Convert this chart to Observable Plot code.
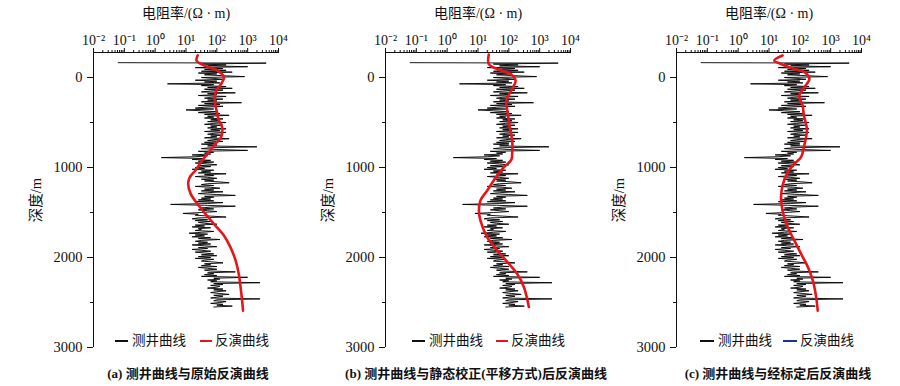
<!DOCTYPE html>
<html><head><meta charset="utf-8">
<script src="https://cdn.jsdelivr.net/npm/d3@7"></script>
<script src="https://cdn.jsdelivr.net/npm/@observablehq/plot@0.6"></script>
<style>
body{margin:0;background:#fff;}
#root{position:relative;width:900px;height:386px;overflow:hidden;font-family:"Liberation Serif","Noto Sans CJK SC",serif;color:#111;}
.panel{position:absolute;top:0;}
.leg{position:absolute;font-size:13.5px;line-height:14px;font-family:"Liberation Serif","Noto Sans CJK SC",serif;white-space:nowrap;}
.sw{position:absolute;height:0;}
.cap{position:absolute;font-size:13px;font-weight:bold;white-space:nowrap;transform:translate(-50%,-50%);}
</style></head><body><div id="root"></div><script>
// ---- well log (shared by all three panels): depth (m) and log10 resistivity (Ω·m)
const wellDepth = [-165,-160,
-150,-140,-130,-120,-110,-100,-90,-80,-70,-60,
-50,-40,-30,-20,-10,0,10,20,30,40,
50,60,70,80,90,100,110,120,130,140,
150,160,170,180,190,200,210,220,230,240,
250,260,270,280,290,300,310,320,330,340,
350,360,370,380,390,400,410,420,430,440,
450,460,470,480,490,500,510,520,530,540,
550,560,570,580,590,600,610,620,630,640,
650,660,670,680,690,700,710,720,730,740,
750,760,770,780,790,800,810,820,830,840,
850,860,870,880,890,900,910,920,930,940,
950,960,970,980,990,1000,1010,1020,1030,1040,
1050,1060,1070,1080,1090,1100,1110,1120,1130,1140,
1150,1160,1170,1180,1190,1200,1210,1220,1230,1240,
1250,1260,1270,1280,1290,1300,1310,1320,1330,1340,
1350,1360,1370,1380,1390,1400,1410,1420,1430,1440,
1450,1460,1470,1480,1490,1500,1510,1520,1530,1540,
1550,1560,1570,1580,1590,1600,1610,1620,1630,1640,
1650,1660,1670,1680,1690,1700,1710,1720,1730,1740,
1750,1760,1770,1780,1790,1800,1810,1820,1830,1840,
1850,1860,1870,1880,1890,1900,1910,1920,1930,1940,
1950,1960,1970,1980,1990,2000,2010,2020,2030,2040,
2050,2060,2070,2080,2090,2100,2110,2120,2130,2140,
2150,2160,2170,2180,2190,2200,2210,2220,2230,2240,
2250,2260,2270,2280,2290,2300,2310,2320,2330,2340,
2350,2360,2370,2380,2390,2400,2410,2420,2430,2440,
2450,2460,2470,2480,2490,2500,2510,2520,2530,2540,
2550];
const wellLog10 = [-1.2,3.6,
1.5,2.3,1.7,3.0,1.3,2.2,1.6,2.3,1.5,2.5,
1.4,2.0,1.6,2.2,2.9,1.5,1.9,2.2,1.3,2.0,
1.6,2.1,0.4,1.9,1.5,2.3,1.7,2.5,1.6,2.2,
1.8,1.5,2.6,1.7,2.0,1.4,2.3,1.8,1.6,2.2,
1.7,2.0,1.5,2.8,1.6,2.1,1.4,2.2,1.6,1.3,
1.9,1.0,1.5,2.0,1.4,2.1,1.6,2.4,1.7,1.9,
1.6,2.2,1.8,2.1,1.7,2.3,1.9,1.6,2.2,1.8,
2.0,1.7,2.3,1.8,2.1,1.6,2.3,1.9,1.7,2.2,
1.8,2.0,1.6,2.4,1.9,1.7,2.2,1.6,2.0,1.5,
2.0,1.7,3.3,1.8,1.5,2.0,3.0,1.4,1.9,1.6,
1.8,1.2,1.7,1.3,0.2,1.6,1.2,1.8,1.4,1.9,
1.3,1.7,2.0,1.4,1.8,1.3,1.6,1.2,1.9,1.5,
1.8,1.4,2.3,1.6,1.9,1.3,1.7,2.0,1.5,1.9,
1.6,2.1,2.4,1.7,1.5,1.9,1.3,1.8,2.1,1.6,
1.9,1.5,2.2,1.7,1.4,2.0,2.6,1.6,1.9,1.5,
1.8,1.4,1.9,1.3,2.2,1.7,0.5,1.6,2.6,1.8,
1.5,1.9,1.4,1.7,2.0,1.5,0.9,1.4,1.3,1.8,
2.3,1.4,1.2,1.7,1.3,1.8,1.4,1.6,2.0,1.3,
1.6,1.2,1.8,1.4,1.5,1.3,1.9,1.5,1.1,1.7,
1.3,1.6,1.2,1.8,1.4,2.1,1.5,1.3,1.7,1.4,
1.8,1.2,1.6,2.0,1.4,1.7,1.2,1.5,1.8,1.3,
1.6,1.9,1.5,2.0,1.4,1.8,1.3,1.9,1.6,1.5,
1.9,2.2,1.6,1.8,1.5,2.0,1.4,1.7,2.0,1.6,
1.8,2.6,1.7,1.9,1.6,2.0,1.5,3.0,1.9,2.1,
1.7,2.0,1.8,3.4,1.9,2.2,1.8,2.1,2.0,1.7,
2.2,1.9,2.3,2.0,1.8,2.1,2.4,1.9,2.2,2.0,
1.8,3.4,2.0,1.9,2.3,2.1,1.8,2.2,2.0,2.5,
1.9];

// ---- inversion curves: depth (m) and log10 resistivity (Ω·m)
const invADepth = [-245,-190,-135,-80,-5,70,165,255,365,480,550,660,735,830,920,1030,1110,1180,1290,1400,1515,1625,1755,1885,2035,2180,2330,2480,2590];
const invALog10 = [1.38,1.34,1.58,2.01,2.23,2.14,1.96,1.93,1.99,2.07,2.17,2.14,1.96,1.74,1.53,1.31,1.12,1.07,1.15,1.36,1.63,1.90,2.23,2.44,2.61,2.71,2.77,2.82,2.85];
const invBDepth = [-255,-150,-95,-40,35,125,255,365,480,590,700,830,915,995,1145,1255,1365,1480,1590,1775,1920,2050,2180,2330,2550];
const invBLog10 = [1.35,1.35,1.62,2.05,2.22,2.11,1.92,1.95,2.00,2.05,2.11,2.11,2.08,1.84,1.51,1.30,1.08,1.03,1.08,1.30,1.62,1.95,2.27,2.49,2.65];
const invCDepth = [-245,-190,-150,-95,-60,15,105,200,255,310,420,570,665,775,885,960,1050,1200,1330,1480,1665,1810,1960,2105,2255,2440,2590];
const invCLog10 = [1.44,1.17,1.39,1.82,2.15,2.31,2.15,1.98,2.02,2.09,2.13,2.23,2.20,2.13,2.04,1.82,1.61,1.44,1.39,1.44,1.61,1.82,2.04,2.26,2.42,2.53,2.58];

// ---- axes and texts
const xMajorTicks = [0.01,0.1,1,10,100,1000,10000];
const yMajorTicks = [0,1000,2000,3000];
const yMinorTicks = [500,1500,2500];
const yDomain = [-278,3000];
const xDomain = [0.01,10000];
const xTitle = "电阻率/(Ω · m)";
const yTitle = "深度/m";
const legendWell = "测井曲线";
const legendInv = "反演曲线";
const captions = ["(a) 测井曲线与原始反演曲线","(b) 测井曲线与静态校正(平移方式)后反演曲线","(c) 测井曲线与经标定后反演曲线"];

const xMinorTicks = [];
for (let e = -2; e < 4; e++) for (let m = 2; m <= 9; m++) xMinorTicks.push(m * Math.pow(10, e));
const supMap = {"-":"⁻","0":"⁰","1":"¹","2":"²","3":"³","4":"⁴"};
const sup = d => "10" + String(Math.round(Math.log10(d))).split("").map(c => supMap[c]).join("");

const mk = (D,L) => D.map((d,i) => ({depth:d, res:Math.pow(10, L[i])}));
const well = mk(wellDepth, wellLog10);
const invs = [mk(invADepth,invALog10), mk(invBDepth,invBLog10), mk(invCDepth,invCLog10)];

const root = document.getElementById("root");
const panelLeft = [0, 292, 583];
const legendSwatchColor = ["#e8141b","#e8141b","#1f2f9a"];
const legendX = [[115,132,200,215],[412,429,496,511],[700,718,783,800]];
const captionX = [188,476,778];
const FONT = '"Liberation Serif","Noto Sans CJK SC",serif';

invs.forEach((inv, k) => {
  const plot = Plot.plot({
    width: 300, height: 352,
    marginLeft: 93, marginRight: 22, marginTop: 52, marginBottom: 5,
    style: {background: "transparent", fontFamily: FONT, fontSize: "14px", overflow: "visible", color: "#111"},
    x: {type: "log", domain: xDomain},
    y: {domain: yDomain, reverse: true},
    marks: [
      Plot.axisX({anchor: "top", ticks: xMinorTicks, tickSize: 3, tickFormat: () => "", label: null}),
      Plot.axisX({anchor: "top", ticks: xMajorTicks, tickSize: 5, tickPadding: 3, tickFormat: sup, label: xTitle, labelAnchor: "center", labelOffset: 44, labelArrow: "none", fontSize: 14}),
      Plot.axisY({anchor: "left", ticks: yMinorTicks, tickSize: 3, tickFormat: () => "", label: null}),
      Plot.axisY({anchor: "left", ticks: yMajorTicks, tickSize: 6, tickPadding: 5, tickFormat: d => String(d), label: yTitle, labelAnchor: "center", labelOffset: 63, labelArrow: "none", fontSize: 14.5}),
      Plot.ruleY([yDomain[0]], {stroke: "#111"}),
      Plot.ruleX([xDomain[0]], {stroke: "#111"}),
      Plot.line(well, {x: "res", y: "depth", stroke: "#000", strokeWidth: 0.9}),
      Plot.line(inv, {x: "res", y: "depth", stroke: "#e8141b", strokeWidth: 2.6, curve: "catmull-rom"})
    ]
  });
  const wrap = document.createElement("div");
  wrap.className = "panel";
  wrap.style.left = panelLeft[k] + "px";
  wrap.appendChild(plot);
  root.appendChild(wrap);

  const [s1, t1, s2, t2] = legendX[k];
  const yC = 341;
  const addSw = (x0, w, c) => { const s = document.createElement("div"); s.className = "sw"; s.style.left = x0 + "px"; s.style.top = (yC - 1) + "px"; s.style.width = w + "px"; s.style.borderTop = "2px solid " + c; root.appendChild(s); };
  const addTx = (x0, t) => { const s = document.createElement("div"); s.className = "leg"; s.style.left = x0 + "px"; s.style.top = (yC - 7) + "px"; s.textContent = t; root.appendChild(s); };
  addSw(s1, t1 - s1 - 4, "#111"); addTx(t1, legendWell);
  addSw(s2, t2 - s2 - 3, legendSwatchColor[k]); addTx(t2, legendInv);

  const c = document.createElement("div");
  c.className = "cap"; c.style.left = captionX[k] + "px"; c.style.top = "372px"; c.textContent = captions[k];
  root.appendChild(c);
});
</script></body></html>
